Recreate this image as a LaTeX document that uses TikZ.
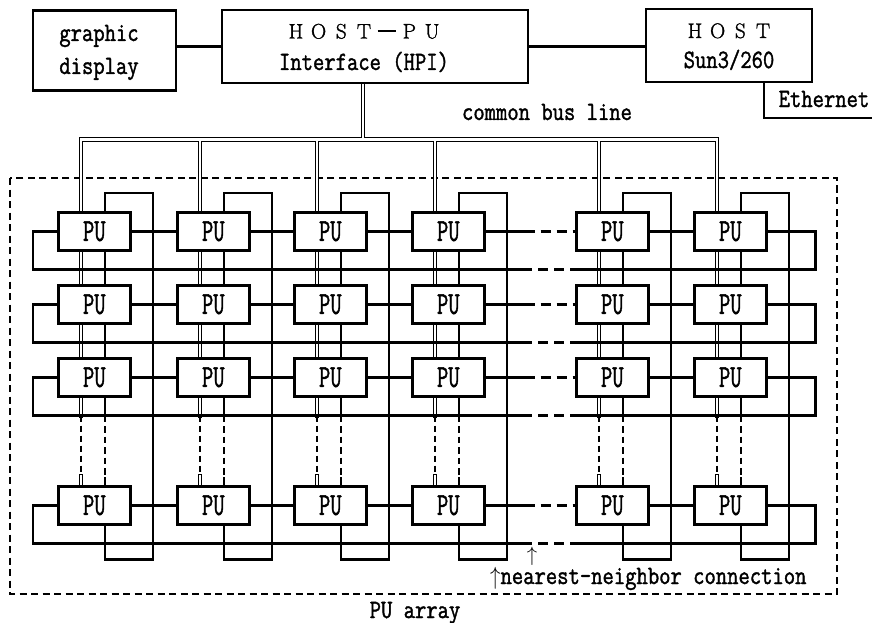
\documentclass[tikz,border=0pt]{standalone}
\usepackage{fontspec}
\newfontfamily\tmono{Latin Modern Mono}[FakeBold=1.6]
\newfontfamily\trom{Latin Modern Roman}[FakeBold=1.5]
\usetikzlibrary{calc}
\pgfdeclarelayer{bg}
\pgfsetlayers{bg,main}
\newcommand\zwc[1]{\makebox[22.7pt]{#1}}
\newcommand\vsc[1]{\scalebox{1}[1.2]{#1}}
\begin{document}
\begin{tikzpicture}[x=1pt,y=-1pt,
  box/.style={draw,line width=2.2pt,inner sep=0pt},
  pu/.style={draw,line width=2.6pt,fill=white,inner sep=0pt,minimum width=72pt,minimum height=38pt,anchor=north west,font=\tmono\fontsize{22}{22}\selectfont},
  wire/.style={line width=2.6pt,line join=miter},
  dwire/.style={line width=2.6pt,dash pattern=on 10pt off 6pt,dash phase=10pt},
  vdash/.style={line width=2pt,dash pattern=on 6.5pt off 4pt},
  busdash/.style={line width=1.5pt,dash pattern=on 6pt off 4pt},
  busout/.style={line width=4.6pt},
  busin/.style={line width=2.6pt,white},
  border/.style={line width=2pt,dash pattern=on 7pt off 4.5pt},
  lbl/.style={font=\tmono\fontsize{22}{22}\selectfont,inner sep=0pt,anchor=base},
  big/.style={font=\trom\fontsize{21}{21}\selectfont,inner sep=0pt,anchor=base},
]
\useasboundingbox (0,0) rectangle (872,623);

% top boxes
\node[box,minimum width=143pt,minimum height=80pt] (gd) at (104.5,50.5) {};
\node[box,minimum width=306pt,minimum height=73pt] (hpi) at (375,46.5) {};
\node[box,minimum width=166pt,minimum height=73pt] (host) at (729,45.5) {};
\draw[line width=2.8pt] (gd.east |- hpi.west) -- (hpi.west);
\draw[line width=2.8pt] (hpi.east) -- (hpi.east -| host.west);
\coordinate (ethend) at (872,118);
\draw[line width=2pt] ($(host.south)+(35,0)$) |- (ethend);

% texts
\node[lbl] (t1) at (99,41) {\vsc{graphic}};
\node[lbl] (t2) at (99,74) {\vsc{display}};
\node[big] (t3) at (364,38.5) {\zwc{H}\zwc{O}\zwc{S}\zwc{T}\zwc{\rule[6.5pt]{18pt}{1.6pt}}\zwc{P}\zwc{U}};
\node[lbl] (t4) at (364,70) {\vsc{Interface (HPI)}};
\node[big] (t5) at (729,38) {\zwc{H}\zwc{O}\zwc{S}\zwc{T}};
\node[lbl] (t6) at (729,68) {\vsc{Sun3/260}};
\node[lbl] (t7) at (824,107) {\vsc{Ethernet}};
\node[lbl] (t8) at (547,120) {\vsc{common bus line}};
\node[lbl,anchor=base west] (t9) at (490,584) {\vsc{$\uparrow$nearest-neighbor connection}};
\node[lbl] (t10) at (415,618) {\vsc{PU array}};
\node[lbl] (arr) at (532,561) {$\uparrow$};

% PU array
\foreach \c/\x in {1/57,2/176,3/293,4/411,5/575,6/693}{
  \foreach \r/\y in {1/211,2/284,3/357,4/485}{
    \node[pu] (p\r\c) at (\x,\y) {\scalebox{1}[1.45]{PU}};
  }
}

\begin{pgfonlayer}{bg}
\draw[border] (10,178) rectangle (837,594);
% common bus, outer
\draw[busout,line cap=rect] ($(p11.north west)+(24,-71.5)$) -- ($(p16.north west)+(24,-71.5)$);
\draw[busout] ($(hpi.south)+(-12,0)$) -- ($(hpi.south)+(-12,56.5)$);
\foreach \c in {1,...,6}{
  \draw[busout,line cap=rect] ($(p1\c.north west)+(24,-71.5)$) -- ($(p3\c.south west)+(24,18)$);
}
% common bus, inner
\draw[busin,line cap=rect] ($(p11.north west)+(24,-71.5)$) -- ($(p16.north west)+(24,-71.5)$);
\draw[busin] ($(hpi.south)+(-12,0)$) -- ($(hpi.south)+(-12,56.5)$);
\foreach \c in {1,...,6}{
  \draw[busin,line cap=rect] ($(p1\c.north west)+(24,-71.5)$) -- ($(p3\c.south west)+(24,18)$);
  \draw[busdash] ($(p3\c.south west)+(24,18)$) -- ($(p4\c.north west)+(24,-12)$);
  \draw[busout] ($(p4\c.north west)+(24,-11)$) -- ($(p4\c.north west)+(24,0)$);
  \draw[busin] ($(p4\c.north west)+(24,-10)$) -- ($(p4\c.north west)+(24,0)$);
}
% rows
\foreach \r in {1,2,3,4}{
  \foreach \a/\b in {1/2,2/3,3/4,5/6}{\draw[wire] (p\r\a.east) -- (p\r\b.west);}
  \draw[wire] (p\r4.east) -- ++(49,0) coordinate (hd\r);
  \draw[dwire] (hd\r) -- ++(38,0);
  \draw[wire] ($(hd\r)+(38,0)$) -- (p\r5.west);
  \draw[wire] (p\r1.west) -- ++(-24,0) |- ($(p\r1.south west)+(475,18)$) coordinate (wd\r);
  \draw[dwire] (wd\r) -- ++(38,0);
  \draw[wire] ($(wd\r)+(38,0)$) -- ($(p\r6.south east)+(48,18)$) |- (p\r6.east);
}
% columns
\foreach \c in {1,...,6}{
  \draw[wire] ($(p1\c.south west)+(48,0)$) -- ($(p2\c.north west)+(48,0)$);
  \draw[wire] ($(p2\c.south west)+(48,0)$) -- ($(p3\c.north west)+(48,0)$);
  \draw[wire] ($(p3\c.south west)+(48,0)$) -- ++(0,18) coordinate (vd\c);
  \draw[vdash] (vd\c) -- ($(p4\c.north west)+(48,-8)$) coordinate (ve\c);
  \draw[wire] (ve\c) -- ($(p4\c.north west)+(48,0)$);
  \draw[wire] ($(p1\c.north west)+(48,0)$) -- ++(0,-18) -- ++(48,0) -- ($(p4\c.south west)+(96,34)$) -- ++(-48,0) -- ($(p4\c.south west)+(48,0)$);
}
\end{pgfonlayer}
\end{tikzpicture}
\end{document}
